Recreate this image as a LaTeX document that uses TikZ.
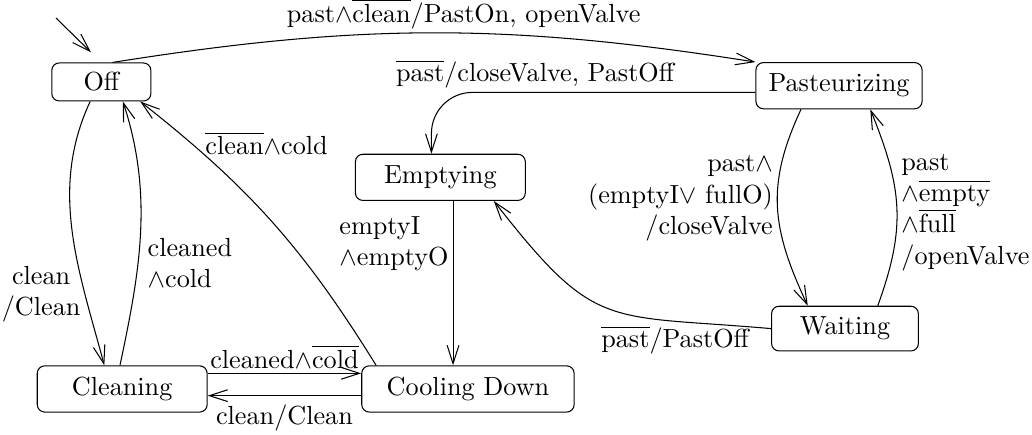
\documentclass[tikz,border=0pt]{standalone}
\usepackage{tikz}
\usetikzlibrary{arrows.meta}
\newcommand{\nt}[1]{$\overline{\mbox{#1}}$}
\tikzset{
    -{Straight Barb[length=7pt,width=4.5pt]},auto,thin,
    state/.style ={rectangle, rounded corners=0.1cm, draw, inner sep=0pt, minimum height=0.62cm},
    lbl/.style = {inner sep=1.5pt, align=left}
}
\begin{document}
\begin{tikzpicture}
    \useasboundingbox (0,0) rectangle (13.85,-5.83);
    \node[state, minimum width=1.33cm, minimum height=0.51cm] (off) at (1.36,-1.10) {Off};
    \node[state, minimum width=2.28cm] (emp) at (5.91,-2.38) {Emptying};
    \node[state, minimum width=2.23cm] (past) at (11.26,-1.15) {Pasteurizing};
    \node[state, minimum width=1.97cm, minimum height=0.60cm] (wait) at (11.34,-4.41) {Waiting};
    \node[state, minimum width=2.28cm] (cln) at (1.64,-5.22) {Cleaning};
    \node[state, minimum width=2.85cm] (cool) at (6.28,-5.22) {Cooling Down};
    \coordinate (init) at (0.75,-0.24);

    \path (init) edge[shorten >=5.5pt] (off.north);
    \path ([xshift=0.15cm]off.north) edge[bend left=9] node[lbl, pos=0.55] {past$\wedge$\nt{clean}/PastOn, openValve} (past.north west);
    \draw[rounded corners=0.55cm] ([yshift=-0.09cm]past.west) -| node[lbl, above, pos=0.34] {\nt{past}/closeValve, PastOff} ([xshift=-0.12cm]emp.north);
    \path ([xshift=0.17cm]emp.south) edge node[lbl, left, pos=0.26] {emptyI\\$\wedge$emptyO} ([xshift=-0.2cm]cool.north);
    \path ([xshift=0.2cm]cool.north west) edge[bend right=10] node[lbl, anchor=west, pos=0.83, xshift=0.13cm] {\nt{clean}$\wedge$cold} ([xshift=-0.15cm]off.south east);
    \path ([xshift=-0.15cm]off.south) edge[out=245, in=105, looseness=0.95] node[lbl, left, pos=0.74, align=center] {clean\\/Clean} ([xshift=-0.24cm]cln.north);
    \path ([xshift=-0.03cm]cln.north) edge[out=78, in=-72, looseness=0.95] node[lbl, right=2pt, pos=0.38] {cleaned\\$\wedge$cold} ([xshift=0.29cm]off.south);
    \path ([yshift=0.21cm]cln.east) edge node[lbl, above] {cleaned$\wedge$\nt{cold}} ([yshift=0.21cm]cool.west);
    \path ([yshift=-0.09cm]cool.west) edge node[lbl, below=2pt] {clean/Clean} ([yshift=-0.09cm]cln.east);
    \path ([xshift=-0.51cm]past.south) edge[out=245, in=115, looseness=1.1] node[lbl, left, pos=0.45, align=right] {past$\wedge$\\(emptyI$\vee$ fullO)\\/closeValve} ([xshift=-0.5cm]wait.north);
    \path ([xshift=0.44cm]wait.north) edge[out=70, in=-68, looseness=1.1] node[lbl, right, pos=0.47] {past\\$\wedge$\nt{empty}\\$\wedge$\nt{full}\\/openValve} ([xshift=0.42cm]past.south);
    \path (wait.west) edge[out=175, in=-52, looseness=1.4] node[lbl, below, pos=0.24] {\nt{past}/PastOff} ([xshift=-0.43cm]emp.south east);
\end{tikzpicture}
\end{document}
